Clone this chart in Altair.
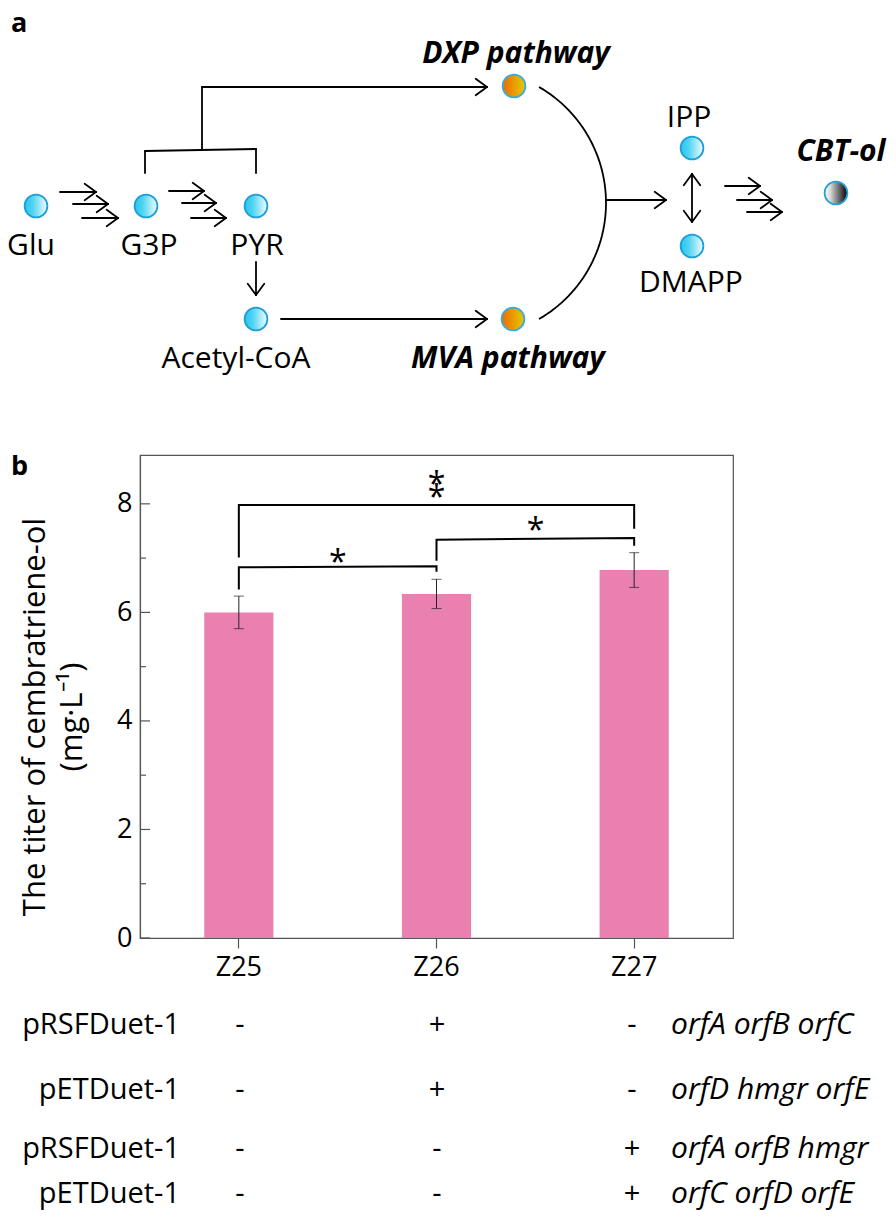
import math
import altair as alt
import numpy as np
import pandas as pd

# ================= data: panel b (bar chart) =================
STRAINS = ["Z25", "Z26", "Z27"]
TITER = [6.00, 6.34, 6.78]
TITER_SD = [0.30, 0.27, 0.32]
Y_MAJOR = [0, 2, 4, 6, 8]
Y_MINOR = [1, 3, 5, 7]

# significance brackets (polyline points: bracket id, strain, value)
BRACKET_ID = ["A", "A", "A", "A", "B", "B", "B", "B", "C", "C", "C", "C"]
BRACKET_STRAIN = ["Z25", "Z25", "Z26", "Z26", "Z26", "Z26", "Z27", "Z27", "Z25", "Z25", "Z27", "Z27"]
BRACKET_VALUE = [6.42, 6.83, 6.85, 6.75, 6.95, 7.34, 7.37, 7.23, 7.01, 7.98, 7.98, 7.54]
# single stars sit between a strain and the next one
STAR_FROM = ["Z25", "Z26"]
STAR_VALUE = [7.05, 7.64]
# double star over the long bracket
DSTAR_AT = ["Z26"]
DSTAR_VALUE = [8.38]

# ================= data: table under panel b =================
PLASMIDS = ["pRSFDuet-1", "pETDuet-1", "pRSFDuet-1", "pETDuet-1"]
SIGNS_Z25 = ["-", "-", "-", "-"]
SIGNS_Z26 = ["+", "+", "-", "-"]
SIGNS_Z27 = ["-", "-", "+", "+"]
GENES = ["orfA orfB orfC", "orfD hmgr orfE", "orfA orfB hmgr", "orfC orfD orfE"]

# ================= data: panel a (pathway diagram) =================
NODES = ["Glu", "G3P", "PYR", "Acetyl-CoA", "DXP", "MVA", "IPP", "DMAPP", "CBT-ol"]
NODE_KIND = ["cyan", "cyan", "cyan", "cyan", "orange", "orange", "cyan", "cyan", "bw"]
NODE_LABELS = ["Glu", "G3P", "PYR", "Acetyl-CoA", "IPP", "DMAPP"]
PATHWAY_LABELS = ["DXP pathway", "MVA pathway", "CBT-ol"]
Y_TITLE = ["The titer of cembratriene-ol", "(mg\u00b7L\u207b\u00b9)"]

# ================= layout (image pixel coordinates) =================
PLOT_L, PLOT_R, PLOT_T, PLOT_B = 140, 733, 455, 938
W, H = PLOT_R - PLOT_L, PLOT_B - PLOT_T
NODE_X = [36, 146, 256, 256, 514, 513, 692, 692, 836]
NODE_Y = [206, 206, 206, 319, 86, 319, 148, 246, 193]
NODE_LABEL_X = [31, 149, 257, 236, 689, 691]
NODE_LABEL_Y = [246, 246, 246, 359, 118, 283]
PATHWAY_LABEL_X = [516, 508, 841]
PATHWAY_LABEL_Y = [54, 359, 152]
TABLE_ROW_Y = [1025, 1090, 1149, 1194]
TABLE_LABEL_RIGHT = 180
TABLE_COL_X = [240, 437, 632]
TABLE_GENE_LEFT = 671

FONT = "Open Sans"
LINE_W = 1.8


def arrow(x0, y0, x1, y1, head_start=False, L=14.0, ang=36.0):
    segs = [(x0, y0, x1, y1)]
    a = math.radians(ang)

    def head(tx, ty, fx, fy):
        dx, dy = tx - fx, ty - fy
        n = math.hypot(dx, dy)
        bx, by = -dx / n, -dy / n
        out = []
        for s in (1, -1):
            rx = bx * math.cos(s * a) - by * math.sin(s * a)
            ry = bx * math.sin(s * a) + by * math.cos(s * a)
            out.append((tx, ty, tx + L * rx, ty + L * ry))
        return out

    segs += head(x1, y1, x0, y0)
    if head_start:
        segs += head(x0, y0, x1, y1)
    return segs


segs = []
# Glu -> G3P (three steps)
segs += arrow(60, 192, 96, 192) + arrow(73, 204, 108, 204) + arrow(82, 218, 118, 218)
# G3P -> PYR
segs += arrow(169, 191, 204, 191) + arrow(182, 203, 216, 203) + arrow(191, 218, 226, 218)
# bracket over G3P / PYR and DXP branch
segs += [(145, 173, 145, 151), (145, 151, 256, 149), (256, 149, 256, 173), (202, 150, 202, 87)]
segs += arrow(202, 87, 487, 87)
# PYR -> Acetyl-CoA -> MVA
segs += arrow(256, 262, 256, 295)
segs += arrow(281, 319, 487, 319)
# merge -> IPP/DMAPP
segs += arrow(606, 200, 666, 200)
segs += arrow(692, 174, 692, 222, head_start=True)
# -> CBT-ol
segs += arrow(725, 186, 760, 186) + arrow(737, 200, 772, 200) + arrow(747, 212, 782, 212)


def to_plot(df, cols_x=("x",), cols_y=("y",)):
    """image pixel coordinates -> pixel coordinates relative to the plot origin"""
    df = df.copy()
    for c in cols_x:
        df[c] = df[c] - PLOT_L
    for c in cols_y:
        df[c] = df[c] - PLOT_T
    return df


seg_df = to_plot(pd.DataFrame(segs, columns=["x", "y", "x2", "y2"]), ("x", "x2"), ("y", "y2"))
theta = np.radians(np.linspace(-60, 60, 61))
arc_df = to_plot(pd.DataFrame({"x": 472 + 134 * np.cos(theta), "y": 203 + 134 * np.sin(theta),
                               "o": np.arange(61)}))
node_df = to_plot(pd.DataFrame({"node": NODES, "kind": NODE_KIND, "x": NODE_X, "y": NODE_Y}))
lab_df = to_plot(pd.DataFrame({"text": NODE_LABELS, "x": NODE_LABEL_X, "y": NODE_LABEL_Y}))
path_df = to_plot(pd.DataFrame({"text": PATHWAY_LABELS, "x": PATHWAY_LABEL_X, "y": PATHWAY_LABEL_Y}))
panel_df = to_plot(pd.DataFrame({"text": ["a", "b"], "x": [11, 11], "y": [24, 467]}))
ytitle_df = to_plot(pd.DataFrame({"text": Y_TITLE, "x": [36, 73], "y": [717, 717]}))
plasmid_df = to_plot(pd.DataFrame({"text": PLASMIDS, "x": [TABLE_LABEL_RIGHT] * 4, "y": TABLE_ROW_Y}))
sign_rows = []
for col, signs in enumerate([SIGNS_Z25, SIGNS_Z26, SIGNS_Z27]):
    for r, s in enumerate(signs):
        sign_rows.append({"text": s, "x": TABLE_COL_X[col], "y": TABLE_ROW_Y[r]})
sign_df = to_plot(pd.DataFrame(sign_rows))
gene_df = to_plot(pd.DataFrame({"text": GENES, "x": [TABLE_GENE_LEFT] * 4, "y": TABLE_ROW_Y}))

px = alt.X("x:Q", scale=None, axis=None)
py = alt.Y("y:Q", scale=None, axis=None)


def grad(stops):
    return alt.Gradient(gradient="linear", x1=0, y1=0.5, x2=1, y2=0.5,
                        stops=[alt.GradientStop(color=c, offset=o) for o, c in stops])


GRADS = {
    "cyan": grad([(0, "#27c6ee"), (0.35, "#4fd3f3"), (1, "#f2fdff")]),
    "orange": grad([(0, "#f06a00"), (1, "#e2cc00")]),
    "bw": grad([(0, "#ffffff"), (0.25, "#d8d8d8"), (1, "#000000")]),
}
STROKES = {"cyan": "#1d9ed9", "orange": "#3aaae2", "bw": "#2a9fd6"}

rules = alt.Chart(seg_df).mark_rule(color="black", strokeWidth=LINE_W, strokeCap="round").encode(
    x=px, y=py, x2="x2:Q", y2="y2:Q")
arc = alt.Chart(arc_df).mark_line(color="black", strokeWidth=LINE_W).encode(x=px, y=py, order="o:Q")
circles = [
    alt.Chart(node_df).transform_filter(alt.datum.kind == k).mark_point(
        shape="circle", filled=True, fill=GRADS[k], stroke=STROKES[k], strokeWidth=1.8,
        size=520, opacity=1).encode(x=px, y=py)
    for k in ["cyan", "orange", "bw"]
]


def text_layer(df, **kw):
    base = dict(font=FONT, fontSize=30, color="black", baseline="middle", align="center")
    base.update(kw)
    return alt.Chart(df).mark_text(**base).encode(x=px, y=py, text="text:N")


diagram_layers = [
    rules, arc, *circles,
    text_layer(lab_df),
    text_layer(path_df, fontWeight="bold", fontStyle="italic"),
    text_layer(panel_df, fontWeight="bold", fontSize=27, align="left"),
    text_layer(ytitle_df, fontSize=31, angle=270),
    text_layer(plasmid_df, fontSize=29, align="right"),
    text_layer(sign_df, fontSize=29),
    text_layer(gene_df, fontSize=30, align="left", fontStyle="italic"),
]

# ================= panel b layers =================
bar_df = pd.DataFrame({"strain": STRAINS, "titer": TITER, "sd": TITER_SD})
bar_df["lo"] = bar_df["titer"] - bar_df["sd"]
bar_df["hi"] = bar_df["titer"] + bar_df["sd"]

XS = alt.Scale(domain=STRAINS, paddingInner=0.65, paddingOuter=0.325)
YS = alt.Scale(domain=[0, 8.9], nice=False, zero=True)
x_axis = alt.Axis(labelAngle=0, labelFont=FONT, labelFontSize=27, labelColor="black", labelPadding=6,
                  tickSize=10, tickColor="#555", tickWidth=1.2, domainColor="#555", domainWidth=1.2,
                  title=None)
y_axis = alt.Axis(values=Y_MAJOR, ticks=False, labelFont=FONT, labelFontSize=27, labelColor="black",
                  labelPadding=8, domainColor="#555", domainWidth=1.2, grid=False, title=None)
# every panel-b layer carries the same axis definition (an axis=None would disable the shared axis)
bx = alt.X("strain:N", scale=XS, axis=x_axis)


def by(field):
    return alt.Y(field, scale=YS, axis=y_axis)


bars = alt.Chart(bar_df).mark_bar(color="#ea80b0").encode(x=bx, y=by("titer:Q"))
err = alt.Chart(bar_df).mark_rule(color="#222", strokeWidth=1).encode(x=bx, y=by("lo:Q"), y2="hi:Q")
cap_hi = alt.Chart(bar_df).mark_tick(color="#222", thickness=1, size=10, orient="horizontal").encode(
    x=bx, y=by("hi:Q"))
cap_lo = alt.Chart(bar_df).mark_tick(color="#222", thickness=1, size=10, orient="horizontal").encode(
    x=bx, y=by("lo:Q"))
maj = alt.Chart(pd.DataFrame({"t": Y_MAJOR})).mark_rule(color="#555", strokeWidth=1.2).encode(
    y=by("t:Q"), x=alt.value(0), x2=alt.value(10))
mnr = alt.Chart(pd.DataFrame({"t": Y_MINOR})).mark_rule(color="#555", strokeWidth=1.2).encode(
    y=by("t:Q"), x=alt.value(0), x2=alt.value(6))
br_df = pd.DataFrame({"id": BRACKET_ID, "strain": BRACKET_STRAIN, "v": BRACKET_VALUE,
                      "o": list(range(len(BRACKET_ID)))})
brackets = alt.Chart(br_df).mark_line(color="black", strokeWidth=2).encode(
    x=bx, y=by("v:Q"), detail="id:N", order="o:Q")
star_df = pd.DataFrame({"strain": STAR_FROM, "v": STAR_VALUE, "s": ["*"] * len(STAR_FROM)})
dstar_df = pd.DataFrame({"strain": DSTAR_AT, "v": DSTAR_VALUE, "s": ["*\n*"] * len(DSTAR_AT)})
stars = alt.Chart(star_df).mark_text(font=FONT, fontSize=32, color="black", dx=99, dy=8).encode(
    x=bx, y=by("v:Q"), text="s:N")
dstars = alt.Chart(dstar_df).mark_text(font=FONT, fontSize=32, color="black", dy=2,
                                       lineBreak="\n", lineHeight=13).encode(
    x=bx, y=by("v:Q"), text="s:N")

chart = alt.layer(
    bars, err, cap_hi, cap_lo, maj, mnr, brackets, stars, dstars, *diagram_layers
).properties(
    width=W, height=H,
    autosize=alt.AutoSizeParams(type="none"),
    padding={"left": PLOT_L - 8, "top": PLOT_T - 8, "right": 888 - PLOT_R, "bottom": 1213 - PLOT_B},
).configure(font=FONT).configure_view(stroke="#555", strokeWidth=1.2)

chart.save("out.html", embed_options={"renderer": "svg", "actions": False})
